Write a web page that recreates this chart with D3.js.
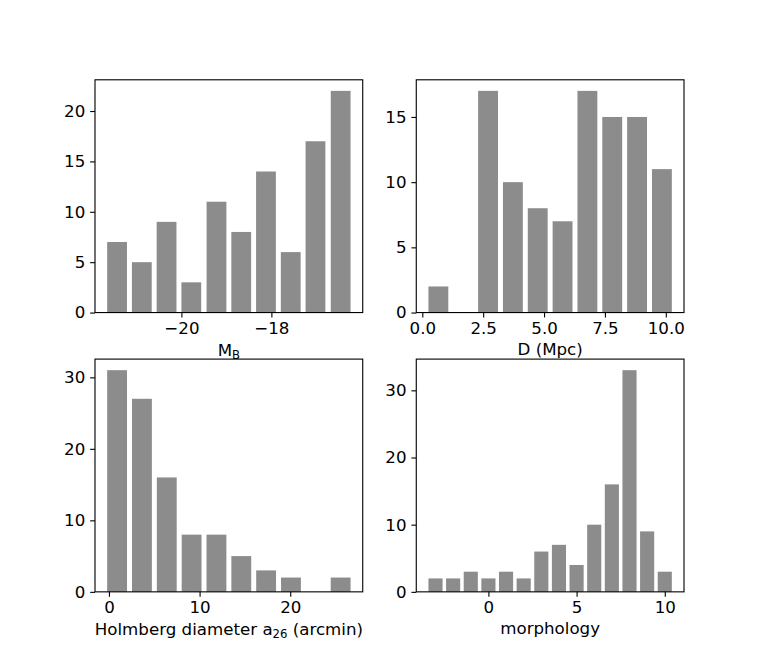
<!DOCTYPE html>
<html>
<head>
<meta charset="utf-8">
<script src="https://cdn.jsdelivr.net/npm/d3@7"></script>
<style>
  html, body { margin: 0; padding: 0; background: #fff; }
  svg { display: block; }
  text { font-family: "DejaVu Sans", sans-serif; }
</style>
</head>
<body>
<svg id="chart" width="760" height="665"></svg>
<script>
// ---- Data ----
const mbCenters = [-21.43, -20.88, -20.33, -19.78, -19.22, -18.67, -18.12, -17.57, -17.02, -16.46];
const mbCounts  = [7, 5, 9, 3, 11, 8, 14, 6, 17, 22];
const mbBarWidth = 0.44;
const mbXTicks = [-20, -18];
const mbYTicks = [0, 5, 10, 15, 20];

const dCenters = [0.66, 1.68, 2.70, 3.72, 4.74, 5.76, 6.78, 7.80, 8.82, 9.84];
const dCounts  = [2, 0, 17, 10, 8, 7, 17, 15, 15, 11];
const dBarWidth = 0.816;
const dXTicks = [0, 2.5, 5, 7.5, 10];
const dYTicks = [0, 5, 10, 15];

const aCenters = [0.90, 3.64, 6.38, 9.12, 11.86, 14.60, 17.34, 20.08, 22.82, 25.56];
const aCounts  = [31, 27, 16, 8, 8, 5, 3, 2, 0, 2];
const aBarWidth = 2.19;
const aXTicks = [0, 10, 20];
const aYTicks = [0, 10, 20, 30];

const tCenters = [-3, -2, -1, 0, 1, 2, 3, 4, 5, 6, 7, 8, 9, 10];
const tCounts  = [2, 2, 3, 2, 3, 2, 6, 7, 4, 10, 16, 33, 9, 3];
const tBarWidth = 0.8;
const tXTicks = [0, 5, 10];
const tYTicks = [0, 10, 20, 30];

// ---- Layout (matplotlib-like subplot grid) ----
const W = 760, H = 665;
const figL = 0.125 * W, figR = 0.9 * W, figT = 0.12 * H, figB = 0.89 * H;
const axW = (figR - figL) / 2.2, axH = (figB - figT) / 2.2;
const gapW = axW * 0.2, gapH = axH * 0.2;
const FS = 16.67, TICK = 4.86, PAD = 4.86, LW = 1.11;
const BAR_COLOR = "#8c8c8c";

const svg = d3.select("#chart");
svg.append("rect").attr("width", W).attr("height", H).attr("fill", "#fff");

function panel(col, row, centers, counts, bw, xTicks, yTicks, xFmt, labelParts) {
  const x0 = figL + col * (axW + gapW);
  const y0 = figT + row * (axH + gapH);
  const g = svg.append("g").attr("transform", `translate(${x0},${y0})`);

  const lo = d3.min(centers) - bw / 2, hi = d3.max(centers) + bw / 2;
  const pad = (hi - lo) * 0.05;
  const x = d3.scaleLinear().domain([lo - pad, hi + pad]).range([0, axW]);
  const y = d3.scaleLinear().domain([0, d3.max(counts) * 1.05]).range([axH, 0]);

  const data = centers.map((c, i) => ({ c, v: counts[i] }));
  g.selectAll("rect.bar").data(data).enter().append("rect")
    .attr("class", "bar")
    .attr("x", d => x(d.c - bw / 2))
    .attr("width", d => x(d.c + bw / 2) - x(d.c - bw / 2))
    .attr("y", d => y(d.v))
    .attr("height", d => y(0) - y(d.v))
    .attr("fill", BAR_COLOR);

  const xa = g.append("g").attr("transform", `translate(0,${axH})`)
    .call(d3.axisBottom(x).tickValues(xTicks).tickFormat(xFmt).tickSize(TICK).tickPadding(PAD));
  const ya = g.append("g")
    .call(d3.axisLeft(y).tickValues(yTicks).tickFormat(d3.format("d")).tickSize(TICK).tickPadding(PAD));
  [xa, ya].forEach(a => {
    a.select(".domain").remove();
    a.selectAll("line").attr("stroke", "#000").attr("stroke-width", LW);
    a.selectAll("text").attr("font-size", FS).attr("fill", "#000")
      .attr("font-family", "DejaVu Sans, sans-serif");
  });

  g.append("rect").attr("x", 0).attr("y", 0).attr("width", axW).attr("height", axH)
    .attr("fill", "none").attr("stroke", "#000").attr("stroke-width", LW);

  const hasSub = labelParts.some(p => p.sub);
  const lab = g.append("text")
    .attr("x", axW / 2).attr("y", axH + (hasSub ? 43.3 : 42.3))
    .attr("text-anchor", "middle").attr("font-size", FS).attr("fill", "#000");
  let shifted = false;
  labelParts.forEach(p => {
    const t = lab.append("tspan").text(p.t);
    if (p.sub) { t.attr("font-size", FS * 0.7).attr("dy", 3.2); shifted = true; }
    else if (shifted) { t.attr("dy", -3.2); shifted = false; }
  });
}

const fmtInt = d3.format("d");
const fmt1 = d3.format(".1f");

panel(0, 0, mbCenters, mbCounts, mbBarWidth, mbXTicks, mbYTicks, fmtInt,
      [{ t: "M" }, { t: "B", sub: true }]);
panel(1, 0, dCenters, dCounts, dBarWidth, dXTicks, dYTicks, fmt1,
      [{ t: "D (Mpc)" }]);
panel(0, 1, aCenters, aCounts, aBarWidth, aXTicks, aYTicks, fmtInt,
      [{ t: "Holmberg diameter a" }, { t: "26", sub: true }, { t: " (arcmin)" }]);
panel(1, 1, tCenters, tCounts, tBarWidth, tXTicks, tYTicks, fmtInt,
      [{ t: "morphology" }]);
</script>
</body>
</html>
